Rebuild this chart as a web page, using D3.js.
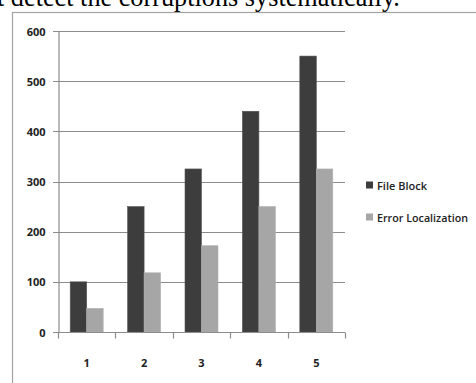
<!DOCTYPE html>
<html>
<head>
<meta charset="utf-8">
<script src="https://cdn.jsdelivr.net/npm/d3@7"></script>
<style>
  html, body { margin: 0; padding: 0; background: #fff; overflow: hidden; }
  svg { display: block; }
</style>
</head>
<body>
<svg id="chart" width="476" height="383"></svg>
<script>
// Chart data
const categories = ["1", "2", "3", "4", "5"];
const seriesNames = ["File Block", "Error Localization"];
const fileBlock = [100, 250, 325, 440, 550];
const errorLocalization = [47, 118, 172, 250, 325];
const yTicks = [0, 100, 200, 300, 400, 500, 600];
const seriesColors = ["#3d3d3d", "#a6a6a6"];

const seriesValues = [fileBlock, errorLocalization];

const svg = d3.select("#chart");
const W = 476, H = 383;

// Running text line of the surrounding document, cut at the top edge
const caption = svg.append("text")
  .attr("x", -3)
  .attr("y", 6)
  .attr("font-family", "'Liberation Serif', 'Times New Roman', serif")
  .attr("font-size", 22)
  .attr("fill", "#000")
  .text("t detect the corruptions systematically.");
const cw = caption.node().getComputedTextLength();
caption.attr("font-size", 22 * 403 / cw);

// Chart frame (continues past the right and bottom edges)
svg.append("rect")
  .attr("x", 12.5).attr("y", 12.5)
  .attr("width", W).attr("height", H)
  .attr("fill", "none")
  .attr("stroke", "#a3a3a3")
  .attr("stroke-width", 1.2);

// Plot area
const plot = { left: 58, right: 345, top: 31, bottom: 332 };

const x = d3.scaleBand()
  .domain(categories)
  .range([plot.left, plot.right])
  .paddingInner(0).paddingOuter(0);

const x1 = d3.scaleBand()
  .domain(seriesNames)
  .range([0, x.bandwidth()])
  .paddingInner(0).paddingOuter(0.74);

const y = d3.scaleLinear()
  .domain([0, 600])
  .range([plot.bottom, plot.top]);

const gridColor = "#8c8c8c";
const labelFont = "'Open Sans', 'DejaVu Sans', sans-serif";

// Horizontal gridlines
svg.append("g")
  .selectAll("line")
  .data(yTicks)
  .join("line")
  .attr("x1", plot.left - 5)
  .attr("x2", plot.right)
  .attr("y1", d => Math.round(y(d)) + 0.5)
  .attr("y2", d => Math.round(y(d)) + 0.5)
  .attr("stroke", gridColor)
  .attr("stroke-width", 1.2);

// Y axis
const yAxis = svg.append("g")
  .attr("transform", `translate(${plot.left + 0.5},0.5)`)
  .call(d3.axisLeft(y).tickValues(yTicks).tickSize(0).tickPadding(13).tickFormat(d3.format("d")));
yAxis.select(".domain").attr("stroke", gridColor).attr("stroke-width", 1.2);
yAxis.selectAll("text")
  .attr("font-family", labelFont)
  .attr("font-size", 11)
  .attr("font-weight", 700)
  .attr("fill", "#222");

// Bars
const groups = svg.append("g")
  .selectAll("g")
  .data(categories)
  .join("g")
  .attr("transform", d => `translate(${x(d)},0)`);

groups.selectAll("rect")
  .data((d, i) => seriesNames.map((s, j) => ({ s, v: seriesValues[j][i], j })))
  .join("rect")
  .attr("x", d => x1(d.s))
  .attr("y", d => y(d.v))
  .attr("width", x1.bandwidth())
  .attr("height", d => y(0) - y(d.v))
  .attr("fill", d => seriesColors[d.j])
  .attr("stroke", d => d.j === 0 ? "#555" : "#b0b0b0")
  .attr("stroke-width", 0.6);

// X axis with ticks between categories
const xAxis = svg.append("g")
  .attr("transform", `translate(0,${Math.round(plot.bottom) + 0.5})`);
const boundaries = categories.map(c => x(c)).concat([x.range()[1]]);
xAxis.append("line")
  .attr("x1", plot.left).attr("x2", plot.right)
  .attr("stroke", gridColor).attr("stroke-width", 1.2);
xAxis.selectAll("line.tick")
  .data(boundaries)
  .join("line")
  .attr("class", "tick")
  .attr("x1", d => Math.round(d) + 0.5).attr("x2", d => Math.round(d) + 0.5)
  .attr("y1", 0).attr("y2", 6)
  .attr("stroke", gridColor).attr("stroke-width", 1.2);
xAxis.selectAll("text")
  .data(categories)
  .join("text")
  .attr("x", d => x(d) + x.bandwidth() / 2)
  .attr("y", 29.5)
  .attr("text-anchor", "middle")
  .attr("dominant-baseline", "central")
  .attr("font-family", labelFont)
  .attr("font-size", 11)
  .attr("font-weight", 700)
  .attr("fill", "#222")
  .text(d => d);

// Legend
const legend = svg.append("g").attr("transform", "translate(366,185)");
const li = legend.selectAll("g")
  .data(seriesNames)
  .join("g")
  .attr("transform", (d, i) => `translate(0,${i * 32})`);
li.append("rect")
  .attr("x", 0).attr("y", -3.5)
  .attr("width", 7).attr("height", 7)
  .attr("fill", (d, i) => seriesColors[i]);
li.append("text")
  .attr("x", 11)
  .attr("y", 0)
  .attr("dominant-baseline", "central")
  .attr("font-family", labelFont)
  .attr("font-size", 11)
  .attr("font-weight", 600)
  .attr("fill", "#222")
  .attr("textLength", d => d === "File Block" ? 50 : 91)
  .attr("lengthAdjust", "spacingAndGlyphs")
  .text(d => d);
</script>
</body>
</html>
